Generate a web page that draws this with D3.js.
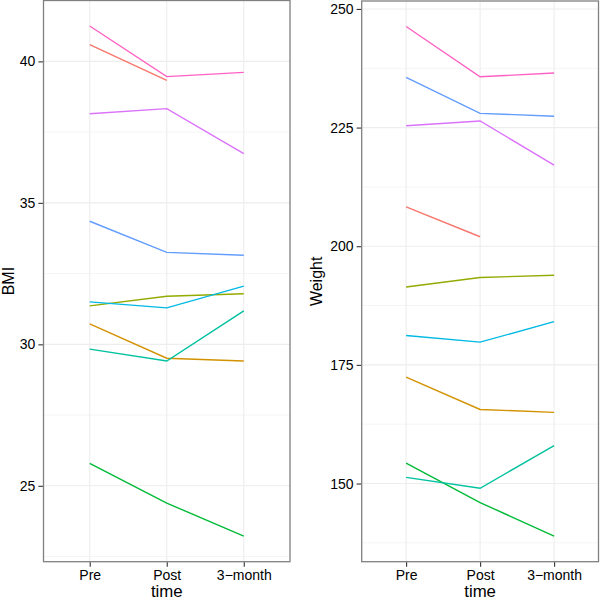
<!DOCTYPE html>
<html>
<head>
<meta charset="utf-8">
<script src="https://cdn.jsdelivr.net/npm/d3@7"></script>
<style>
  html, body { margin: 0; padding: 0; background: #fff; }
  svg { display: block; }
  text { font-family: "Liberation Sans", Arial, Helvetica, sans-serif; }
</style>
</head>
<body>
<svg id="chart" width="601" height="600"></svg>
<script>
// ---- data ----
const times = ["Pre", "Post", "3\u2212month"];
const subjects = ["1", "2", "3", "4", "5", "6", "7", "8", "9"];
const bmiPre   = [40.59, 30.72, 31.36, 25.79, 29.83, 31.50, 34.35, 38.15, 41.25];
const bmiPost  = [39.33, 29.51, 31.70, 24.39, 29.41, 31.29, 33.25, 38.33, 39.46];
const bmi3m    = [null,  29.41, 31.79, 23.22, 31.18, 32.06, 33.15, 36.74, 39.61];
const wtPre    = [208.3, 172.4, 191.4, 154.3, 151.3, 181.2, 235.6, 225.4, 246.3];
const wtPost   = [202.0, 165.6, 193.4, 146.0, 149.0, 179.8, 228.0, 226.4, 235.7];
const wt3m     = [null,  165.0, 193.9, 138.9, 158.0, 184.1, 227.4, 217.1, 236.5];
const bmiTicks = [25, 30, 35, 40];
const wtTicks  = [150, 175, 200, 225, 250];

// ggplot hue palette (9 levels)
const palette = ["#F8766D", "#D39200", "#93AA00", "#00BA38", "#00C19F",
                 "#00B9E3", "#619CFF", "#DB72FB", "#FF61C3"];

const svg = d3.select("#chart");
const color = d3.scaleOrdinal().domain(subjects).range(palette);

function expand(vals) {
  const ext = d3.extent(vals.filter(v => v != null));
  const d = (ext[1] - ext[0]) * 0.05;
  return [ext[0] - d, ext[1] + d];
}
function minorBreaks(ticks, dom) {
  const bd = ticks[1] - ticks[0];
  let b = ticks.slice();
  if (dom[0] < b[0]) b.unshift(b[0] - bd);
  if (dom[1] > b[b.length - 1]) b.push(b[b.length - 1] + bd);
  const m = [];
  for (let i = 0; i < b.length - 1; i++) m.push((b[i] + b[i + 1]) / 2);
  return m.filter(v => v >= dom[0] && v <= dom[1]);
}

function panel(opts) {
  const { x0, x1, y0, y1, series, ticks, title, titleX } = opts;
  const allVals = series.flat();
  const dom = expand(allVals);
  const x = d3.scalePoint().domain(times).range([x0, x1]).padding(0.6);
  const y = d3.scaleLinear().domain(dom).range([y1, y0]);
  const g = svg.append("g");

  g.append("rect").attr("x", x0).attr("y", y0).attr("width", x1 - x0).attr("height", y1 - y0)
    .attr("fill", "#fff");

  // minor grid
  g.selectAll(".minor").data(minorBreaks(ticks, dom)).enter().append("line")
    .attr("x1", x0).attr("x2", x1).attr("y1", d => y(d)).attr("y2", d => y(d))
    .attr("stroke", "#F5F5F5").attr("stroke-width", 1);
  // major grid
  g.selectAll(".majorY").data(ticks).enter().append("line")
    .attr("x1", x0).attr("x2", x1).attr("y1", d => y(d)).attr("y2", d => y(d))
    .attr("stroke", "#EDEDED").attr("stroke-width", 1.1);
  g.selectAll(".majorX").data(times).enter().append("line")
    .attr("x1", d => x(d)).attr("x2", d => x(d)).attr("y1", y0).attr("y2", y1)
    .attr("stroke", "#EDEDED").attr("stroke-width", 1.1);

  // lines
  const line = d3.line().defined(d => d.v != null).x(d => x(d.t)).y(d => y(d.v));
  subjects.forEach((s, i) => {
    const pts = times.map((t, j) => ({ t: t, v: series[j][i] }));
    g.append("path").datum(pts).attr("d", line)
      .attr("fill", "none").attr("stroke", color(s)).attr("stroke-width", 1.4);
  });

  // border
  g.append("rect").attr("x", x0).attr("y", y0).attr("width", x1 - x0).attr("height", y1 - y0)
    .attr("fill", "none").attr("stroke", "#808080").attr("stroke-width", 1.3);

  // axes
  const yAxis = d3.axisLeft(y).tickValues(ticks).tickSize(4.5).tickPadding(3);
  const ya = svg.append("g").attr("transform", `translate(${x0 - 0.6},0)`).call(yAxis);
  ya.select(".domain").remove();
  ya.selectAll(".tick line").attr("stroke", "#333").attr("stroke-width", 1.1);
  ya.selectAll(".tick text").attr("fill", "#000").style("font-size", "14px");

  const xAxis = d3.axisBottom(x).tickSize(4.5).tickPadding(3);
  const xa = svg.append("g").attr("transform", `translate(0,${y1 + 0.6})`).call(xAxis);
  xa.select(".domain").remove();
  xa.selectAll(".tick line").attr("stroke", "#333").attr("stroke-width", 1.1);
  xa.selectAll(".tick text").attr("fill", "#000").style("font-size", "14px");

  // titles
  svg.append("text").attr("x", (x0 + x1) / 2).attr("y", 597)
    .attr("text-anchor", "middle").style("font-size", "16.8px").attr("fill", "#000").text("time");
  const cy = (y0 + y1) / 2;
  svg.append("text").attr("transform", `translate(${titleX},${cy}) rotate(-90)`)
    .attr("text-anchor", "middle").style("font-size", "16px").attr("fill", "#000").text(title);
}

panel({ x0: 43.5, x1: 290, y0: 0.5, y1: 561.7,
        series: [bmiPre, bmiPost, bmi3m], ticks: bmiTicks, title: "BMI", titleX: 14 });
panel({ x0: 361.7, x1: 598.5, y0: 1, y1: 561.7,
        series: [wtPre, wtPost, wt3m], ticks: wtTicks, title: "Weight", titleX: 321.5 });
</script>
</body>
</html>
